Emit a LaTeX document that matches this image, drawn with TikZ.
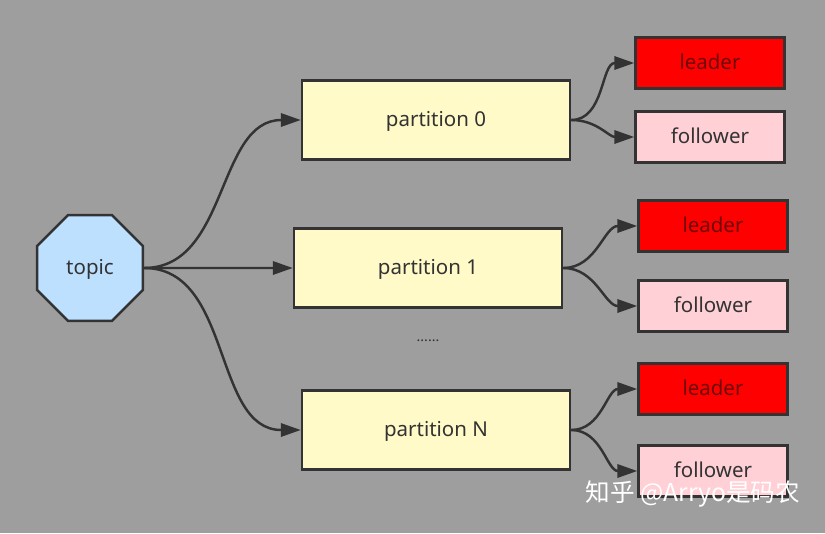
\documentclass[tikz,border=0pt]{standalone}
\usepackage{fontspec}
\setmainfont{Noto Sans}
\newfontfamily\cjk{Noto Sans CJK SC}
\usetikzlibrary{arrows.meta,shapes.geometric}

\definecolor{bggray}{RGB}{158,158,158}
\definecolor{inkgray}{RGB}{51,51,51}
\definecolor{topicblue}{RGB}{190,224,255}
\definecolor{partyellow}{RGB}{255,250,200}
\definecolor{leadred}{RGB}{255,0,0}
\definecolor{leadtext}{RGB}{110,10,10}
\definecolor{followpink}{RGB}{255,208,214}

\tikzset{
	base/.style={draw=inkgray, line width=2.1pt, text=inkgray, inner sep=0pt,
		font=\fontsize{17.5}{20}\selectfont, text depth=0.45ex},
	topicnode/.style={base, regular polygon, regular polygon sides=8,
		minimum size=3.44cm, fill=topicblue},
	partbox/.style={base, rectangle, minimum width=8.04cm, minimum height=2.37cm, fill=partyellow},
	leaderbox/.style={base, rectangle, minimum width=4.47cm, minimum height=1.53cm,
		fill=leadred, text=leadtext},
	followerbox/.style={base, rectangle, minimum width=4.47cm, minimum height=1.53cm, fill=followpink},
	link/.style={draw=inkgray, line width=2.1pt,
		-{Triangle[length=0.6cm, width=0.4cm]}},
}

\begin{document}
\begin{tikzpicture}[x=0.03cm, y=-0.03cm]
		%%%%% START %%%%%
		
		\fill[bggray] (0, 0) rectangle (825, 533);
		\useasboundingbox (0, 0) rectangle (825, 533);
		
		\node[topicnode] (topic) at (90, 268) {topic};
		
		\node[partbox] (part0) at (436, 120) {partition 0};
		\node[partbox] (part1) at (428, 268) {partition 1};
		\node[partbox] (partN) at (436, 430) {partition N};
		\node[inkgray, font=\fontsize{12}{14}\selectfont] (dots) at (428, 341) {......};
		
		\node[leaderbox] (lead0) at (710, 63) {leader};
		\node[followerbox] (foll0) at (710, 137) {follower};
		\node[leaderbox] (lead1) at (713, 226) {leader};
		\node[followerbox] (foll1) at (713, 306) {follower};
		\node[leaderbox] (leadN) at (713, 389) {leader};
		\node[followerbox] (follN) at (713, 471) {follower};
		
		\draw[link] (topic.east) to[out=0, in=180] (part0.west);
		\draw[link] (topic.east) -- (part1.west);
		\draw[link] (topic.east) to[out=0, in=180] (partN.west);
		
		\draw[link] (part0.east) to[out=0, in=180] (lead0.west);
		\draw[link] (part0.east) to[out=0, in=180] (foll0.west);
		\draw[link] (part1.east) to[out=0, in=180] (lead1.west);
		\draw[link] (part1.east) to[out=0, in=180] (foll1.west);
		\draw[link] (partN.east) to[out=0, in=180] (leadN.west);
		\draw[link] (partN.east) to[out=0, in=180] (follN.west);
		
		\node[white, font=\cjk\fontsize{21}{24}\selectfont] (mark) at (693, 494) {知乎 @Arryo是码农};
		
		%%%%% END %%%%%
	\end{tikzpicture}
\end{document}
